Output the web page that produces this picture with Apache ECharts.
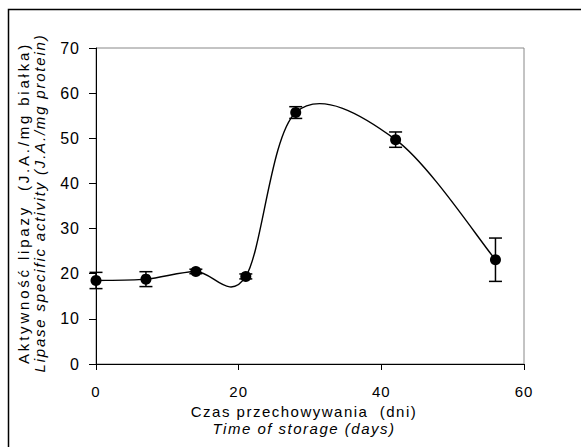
<!DOCTYPE html>
<html>
<head>
<meta charset="utf-8">
<script src="https://cdn.jsdelivr.net/npm/echarts@6/dist/echarts.min.js"></script>
<style>
  html, body { margin: 0; padding: 0; background: #fff; }
  #chart { width: 581px; height: 447px; }
</style>
</head>
<body>
<div id="chart"></div>
<script>
// storage time (days) and lipase activity (J.A./mg protein)
const days = [0, 7, 14, 21, 28, 42, 56]
const activity = [18.5, 18.8, 20.5, 19.4, 55.7, 49.7, 23.1]
const errorSD = [1.8, 1.65, 0.5, 0.55, 1.3, 1.7, 4.8]

const xTicks = [0, 20, 40, 60]
const yTicks = [0, 10, 20, 30, 40, 50, 60, 70]

const yTitle1 = 'Aktywność lipazy  (J.A./mg białka)'
const yTitle2 = 'Lipase specific activity (J.A./mg protein)'
const xTitle1 = 'Czas przechowywania  (dni)'
const xTitle2 = 'Time of storage (days)'

const chart = echarts.init(document.getElementById('chart'), null, { renderer: 'svg' })

const points = days.map((d, i) => [d, activity[i]])
const errRows = days.map((d, i) => [d, activity[i] - errorSD[i], activity[i] + errorSD[i]])

const font = '"Liberation Sans", Arial, sans-serif'

// Excel-like smoothed line: cardinal bezier between neighbouring points
function renderCurve(params, api) {
  const i = params.dataIndex
  const n = points.length
  if (i >= n - 1) return null
  const p0 = api.coord(points[Math.max(i - 1, 0)])
  const p1 = api.coord(points[i])
  const p2 = api.coord(points[i + 1])
  const p3 = api.coord(points[Math.min(i + 2, n - 1)])
  return {
    type: 'bezierCurve',
    shape: {
      x1: p1[0], y1: p1[1],
      cpx1: p1[0] + (p2[0] - p0[0]) / 6, cpy1: p1[1] + (p2[1] - p0[1]) / 6,
      cpx2: p2[0] - (p3[0] - p1[0]) / 6, cpy2: p2[1] - (p3[1] - p1[1]) / 6,
      x2: p2[0], y2: p2[1]
    },
    style: { stroke: '#000', lineWidth: 1.4, fill: 'none' }
  }
}

function renderErrorBar(params, api) {
  const x = api.value(0)
  const lo = api.coord([x, api.value(1)])
  const hi = api.coord([x, api.value(2)])
  const w = 6.5
  const st = { stroke: '#000', lineWidth: 1.5 }
  return {
    type: 'group',
    children: [
      { type: 'line', shape: { x1: lo[0], y1: lo[1], x2: hi[0], y2: hi[1] }, style: st },
      { type: 'line', shape: { x1: lo[0] - w, y1: lo[1], x2: lo[0] + w, y2: lo[1] }, style: st },
      { type: 'line', shape: { x1: hi[0] - w, y1: hi[1], x2: hi[0] + w, y2: hi[1] }, style: st }
    ]
  }
}

chart.setOption({
  animation: false,
  backgroundColor: '#fff',
  textStyle: { fontFamily: font, color: '#000' },
  graphic: [
    {
      type: 'rect',
      shape: { x: 8.5, y: 9.5, width: 700, height: 600 },
      style: { fill: 'none', stroke: '#000', lineWidth: 1.5 },
      silent: true
    }
  ],
  grid: {
    left: 96, top: 48, right: 57, bottom: 83,
    show: true, borderColor: '#888', borderWidth: 1, backgroundColor: 'transparent'
  },
  xAxis: {
    type: 'value',
    min: xTicks[0], max: xTicks[xTicks.length - 1], interval: 20,
    axisLine: { show: true, onZero: false, lineStyle: { color: '#000', width: 1 } },
    axisTick: { show: true, inside: false, length: 6, lineStyle: { color: '#000' } },
    splitLine: { show: false },
    axisLabel: { color: '#000', fontSize: 15, margin: 20, fontFamily: font },
    name: '{a|' + xTitle1 + '}\n{b|' + xTitle2 + '}',
    nameLocation: 'middle',
    nameGap: 37,
    nameTextStyle: {
      rich: {
        a: { fontSize: 15, fontFamily: font, color: '#000', lineHeight: 17, padding: [0, 12, 0, 0] },
        b: { fontSize: 15, fontFamily: font, fontStyle: 'italic', color: '#000', lineHeight: 17, padding: [0, 12, 0, 0] }
      }
    }
  },
  yAxis: {
    type: 'value',
    min: yTicks[0], max: yTicks[yTicks.length - 1], interval: 10,
    axisLine: { show: true, onZero: false, lineStyle: { color: '#000', width: 1 } },
    axisTick: { show: true, inside: false, length: 7, lineStyle: { color: '#000' } },
    splitLine: { show: false },
    axisLabel: { color: '#000', fontSize: 16, margin: 16, fontFamily: font },
    name: '{a|' + yTitle1 + '}\n{b|' + yTitle2 + '}',
    nameLocation: 'middle',
    nameGap: 49,
    nameRotate: 90,
    nameTextStyle: {
      rich: {
        a: { fontSize: 15, fontFamily: font, color: '#000', lineHeight: 16, padding: [0, 0, 0, 6] },
        b: { fontSize: 15, fontFamily: font, fontStyle: 'italic', color: '#000', lineHeight: 16, padding: [0, 0, 0, 6] }
      }
    }
  },
  series: [
    { type: 'custom', z: 2, data: points, renderItem: renderCurve, silent: true },
    { type: 'custom', z: 3, data: errRows, renderItem: renderErrorBar, silent: true },
    {
      type: 'scatter',
      z: 4,
      data: points,
      symbol: 'circle',
      symbolSize: 11,
      itemStyle: { color: '#000', opacity: 1 }
    }
  ]
})

// the reference's labels are set with loose letter spacing
function spaceText() {
  document.querySelectorAll('#chart text').forEach((t) => {
    const s = t.textContent
    let ls = 1
    if (s === yTitle1) ls = 2.8
    else if (s === yTitle2) ls = 1.8
    else if (s === xTitle1 || s === xTitle2) ls = 1.5
    t.style.letterSpacing = ls + 'px'
  })
}
spaceText()
chart.on('finished', spaceText)
setTimeout(spaceText, 50)
</script>
</body>
</html>
